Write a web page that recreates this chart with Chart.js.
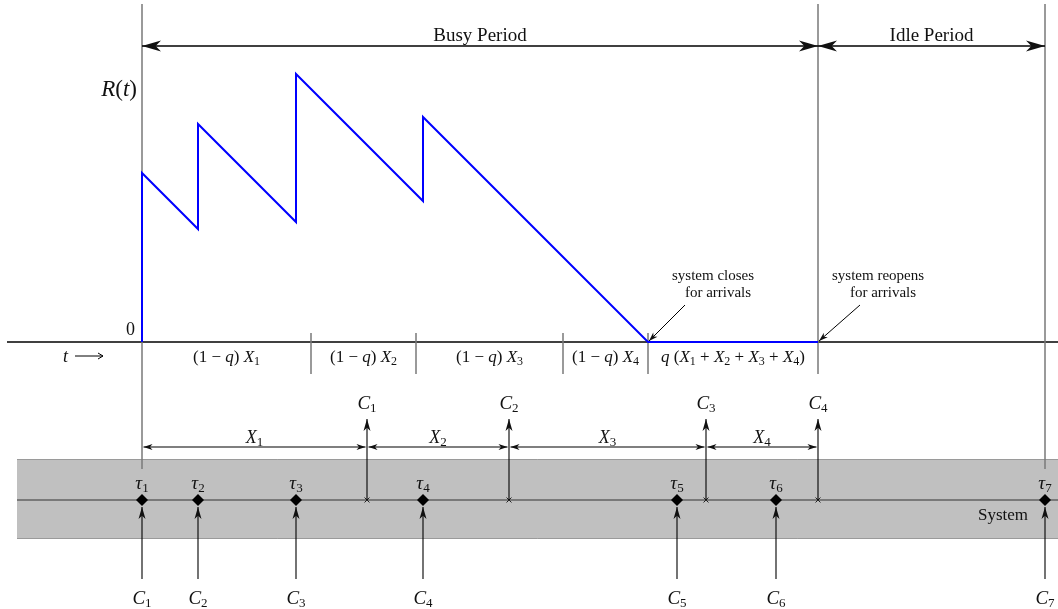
<!DOCTYPE html>
<html>
<head>
<meta charset="utf-8">
<script src="https://cdn.jsdelivr.net/npm/chart.js@4/dist/chart.umd.min.js"></script>
<style>
  html, body { margin: 0; padding: 0; background: #fff; }
  #wrap { width: 1058px; height: 609px; position: relative; }
</style>
</head>
<body>
<div id="wrap"><canvas id="c"></canvas></div>
<script>
// Values (time in arbitrary units, t = 0 at first arrival)
const arrivalTimes = [0, 56, 154, 281, 535, 634, 903];
const departureTimes = [225, 367, 564, 676];
const workT = [0, 0, 56, 56, 154, 154, 281, 281, 506, 676];
const workR = [0, 169, 113, 218, 120, 268, 141, 225, 0, 0];
const splitTimes = [0, 169, 274, 421, 506, 676];
const busyEnd = 676;
const idleEnd = 903;

// Label texts: [text, style]  r = roman, i = italic, s = subscript
const segLabels = [
  [['(1 \u2212 ', 'r'], ['q', 'i'], [') ', 'r'], ['X', 'i'], ['1', 's']],
  [['(1 \u2212 ', 'r'], ['q', 'i'], [') ', 'r'], ['X', 'i'], ['2', 's']],
  [['(1 \u2212 ', 'r'], ['q', 'i'], [') ', 'r'], ['X', 'i'], ['3', 's']],
  [['(1 \u2212 ', 'r'], ['q', 'i'], [') ', 'r'], ['X', 'i'], ['4', 's']],
  [['q', 'i'], [' (', 'r'], ['X', 'i'], ['1', 's'], [' + ', 'r'], ['X', 'i'], ['2', 's'],
   [' + ', 'r'], ['X', 'i'], ['3', 's'], [' + ', 'r'], ['X', 'i'], ['4', 's'], [')', 'r']]
];

const SYS = -158;   // level of the system time line
const FONT = '"Liberation Serif", "DejaVu Serif", serif';
const INK = '#111';

function rich(ctx, parts, x, y, size, align) {
  const fonts = {
    r: size + 'px ' + FONT,
    i: 'italic ' + size + 'px ' + FONT,
    s: Math.round(size * 0.7) + 'px ' + FONT
  };
  let w = 0;
  parts.forEach(([s, st]) => { ctx.font = fonts[st]; w += ctx.measureText(s).width; });
  let cx = align === 'center' ? x - w / 2 : align === 'right' ? x - w : x;
  ctx.textAlign = 'left';
  ctx.textBaseline = 'alphabetic';
  parts.forEach(([s, st]) => {
    ctx.font = fonts[st];
    ctx.fillText(s, cx, st === 's' ? y + size * 0.15 : y);
    cx += ctx.measureText(s).width;
  });
}

// stealth-like filled head, tip at (x, y), pointing along angle a
function head(ctx, x, y, a, len, half) {
  const c = Math.cos(a), s = Math.sin(a);
  ctx.beginPath();
  ctx.moveTo(x, y);
  ctx.lineTo(x - len * c - half * s, y - len * s + half * c);
  ctx.lineTo(x - len * 0.72 * c, y - len * 0.72 * s);
  ctx.lineTo(x - len * c + half * s, y - len * s - half * c);
  ctx.closePath();
  ctx.fill();
}

function arrow(ctx, x1, y1, x2, y2, len, half, both) {
  ctx.beginPath();
  ctx.moveTo(x1, y1);
  ctx.lineTo(x2, y2);
  ctx.stroke();
  const a = Math.atan2(y2 - y1, x2 - x1);
  head(ctx, x2, y2, a, len, half);
  if (both) head(ctx, x1, y1, a + Math.PI, len, half);
}

const diagram = {
  id: 'diagram',
  beforeDatasetsDraw(chart) {
    const ctx = chart.ctx;
    const X = v => chart.scales.x.getPixelForValue(v);
    const Y = v => chart.scales.y.getPixelForValue(v);
    ctx.save();
    // grey system band
    ctx.fillStyle = '#c0c0c0';
    ctx.fillRect(X(-125), Y(-117), chart.width - X(-125), Y(-197) - Y(-117));
    ctx.strokeStyle = '#9a9a9a';
    ctx.lineWidth = 1;
    ctx.beginPath();
    ctx.moveTo(X(-125), Y(-117) + 0.5); ctx.lineTo(chart.width, Y(-117) + 0.5);
    ctx.moveTo(X(-125), Y(-197) - 0.5); ctx.lineTo(chart.width, Y(-197) - 0.5);
    ctx.stroke();
    // system time line
    ctx.strokeStyle = '#333';
    ctx.lineWidth = 1.2;
    ctx.beginPath();
    ctx.moveTo(X(-125), Y(SYS)); ctx.lineTo(chart.width, Y(SYS));
    ctx.stroke();
    // time axis of R(t)
    ctx.strokeStyle = '#000';
    ctx.lineWidth = 1.3;
    ctx.beginPath();
    ctx.moveTo(X(-135), Y(0)); ctx.lineTo(chart.width, Y(0));
    ctx.stroke();
    // grey verticals
    ctx.strokeStyle = '#7a7a7a';
    ctx.lineWidth = 1.5;
    ctx.beginPath();
    ctx.moveTo(X(0), Y(338)); ctx.lineTo(X(0), Y(-127));
    ctx.moveTo(X(busyEnd), Y(338)); ctx.lineTo(X(busyEnd), Y(-32));
    ctx.moveTo(X(idleEnd), Y(338)); ctx.lineTo(X(idleEnd), Y(-127));
    splitTimes.slice(1, -1).forEach(t => {
      ctx.moveTo(X(t), Y(9)); ctx.lineTo(X(t), Y(-32));
    });
    ctx.stroke();
    ctx.restore();
  },
  afterDatasetsDraw(chart) {
    const ctx = chart.ctx;
    const X = v => chart.scales.x.getPixelForValue(v);
    const Y = v => chart.scales.y.getPixelForValue(v);
    ctx.save();
    ctx.fillStyle = INK;
    ctx.strokeStyle = '#000';
    ctx.lineWidth = 1.3;

    // busy / idle period arrows
    arrow(ctx, X(0), Y(296), X(busyEnd), Y(296), 19, 5.5, true);
    arrow(ctx, X(busyEnd), Y(296), X(idleEnd), Y(296), 19, 5.5, true);
    rich(ctx, [['Busy Period', 'r']], X(busyEnd / 2), Y(301), 19, 'center');
    rich(ctx, [['Idle Period', 'r']], X((busyEnd + idleEnd) / 2), Y(301), 19, 'center');

    // axis labels
    rich(ctx, [['R', 'i'], ['(', 'r'], ['t', 'i'], [')', 'r']], X(-5), Y(246), 23, 'right');
    rich(ctx, [['0', 'r']], X(-7), Y(7), 18, 'right');
    rich(ctx, [['t', 'i']], X(-79), Y(-20), 18, 'left');
    ctx.lineWidth = 1;
    ctx.beginPath();
    ctx.moveTo(X(-67), Y(-14)); ctx.lineTo(X(-39), Y(-14));
    ctx.moveTo(X(-44), Y(-11)); ctx.lineTo(X(-39), Y(-14)); ctx.lineTo(X(-44), Y(-17));
    ctx.stroke();

    // segment labels under the axis
    segLabels.forEach((parts, i) => {
      const mid = (splitTimes[i] + splitTimes[i + 1]) / 2;
      rich(ctx, parts, X(mid), Y(-20), 17, 'center');
    });

    // system closes / reopens notes
    rich(ctx, [['system closes', 'r']], X(571), Y(62), 15, 'center');
    rich(ctx, [['for arrivals', 'r']], X(576), Y(45), 15, 'center');
    rich(ctx, [['system reopens', 'r']], X(736), Y(62), 15, 'center');
    rich(ctx, [['for arrivals', 'r']], X(741), Y(45), 15, 'center');
    ctx.lineWidth = 1;
    arrow(ctx, X(543), Y(37), X(507), Y(1), 9, 3, false);
    arrow(ctx, X(718), Y(37), X(677), Y(1), 9, 3, false);

    // departures: up arrows, interval arrows and labels
    ctx.lineWidth = 1.1;
    departureTimes.forEach((t, i) => {
      arrow(ctx, X(t), Y(SYS), X(t), Y(-77), 12, 3.5, false);
      rich(ctx, [['C', 'i'], [String(i + 1), 's']], X(t), Y(-67), 19, 'center');
      const prev = i === 0 ? 0 : departureTimes[i - 1];
      arrow(ctx, X(prev) + 1.5, Y(-105), X(t) - 1.5, Y(-105), 9, 3, true);
      rich(ctx, [['X', 'i'], [String(i + 1), 's']], X((prev + t) / 2), Y(-101), 18, 'center');
    });

    // arrivals: labels and incoming arrows
    arrivalTimes.forEach((t, i) => {
      rich(ctx, [['\u03c4', 'i'], [String(i + 1), 's']], X(t), Y(-147), 19, 'center');
      arrow(ctx, X(t), Y(-237), X(t), Y(-165), 12, 3.5, false);
      rich(ctx, [['C', 'i'], [String(i + 1), 's']], X(t), Y(-262), 19, 'center');
    });

    rich(ctx, [['System', 'r']], X(861), Y(-178), 17, 'center');
    ctx.restore();
  }
};

new Chart(document.getElementById('c'), {
  type: 'scatter',
  data: {
    datasets: [
      {
        label: 'arrivals',
        data: arrivalTimes.map(t => ({ x: t, y: SYS })),
        pointStyle: 'rectRot',
        pointRadius: 6,
        backgroundColor: '#000',
        borderColor: '#000',
        borderWidth: 0
      },
      {
        label: 'departures',
        data: departureTimes.map(t => ({ x: t, y: SYS })),
        pointStyle: 'crossRot',
        pointRadius: 3.5,
        borderColor: '#222',
        borderWidth: 1
      },
      {
        label: 'R(t)',
        data: workT.map((t, i) => ({ x: t, y: workR[i] })),
        showLine: true,
        borderColor: '#0000ff',
        borderWidth: 2,
        pointRadius: 0,
        tension: 0,
        fill: false
      }
    ]
  },
  options: {
    responsive: true,
    maintainAspectRatio: false,
    animation: false,
    layout: { padding: 0, autoPadding: false },
    plugins: { legend: { display: false }, tooltip: { enabled: false } },
    scales: {
      x: { type: 'linear', display: false, min: -142, max: 916 },
      y: { type: 'linear', display: false, min: -267, max: 342 }
    }
  },
  plugins: [diagram]
});
</script>
</body>
</html>
